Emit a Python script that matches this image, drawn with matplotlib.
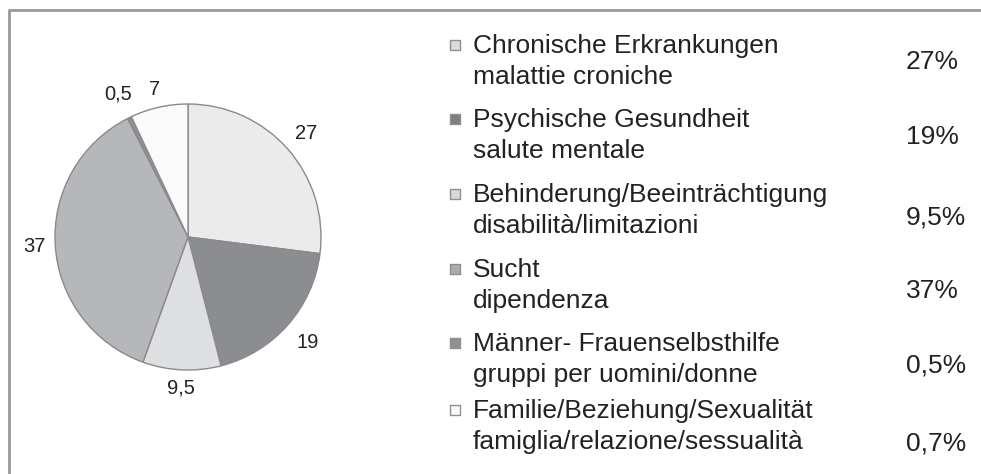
import numpy as np
import matplotlib
matplotlib.use("Agg")
import matplotlib.pyplot as plt

# data
pie_values = [27, 19, 9.5, 37, 0.5, 7]
pie_labels = ["27", "19", "9,5", "37", "0,5", "7"]
legend_de = ["Chronische Erkrankungen", "Psychische Gesundheit",
             "Behinderung/Beeinträchtigung", "Sucht",
             "Männer- Frauenselbsthilfe", "Familie/Beziehung/Sexualität"]
legend_it = ["malattie croniche", "salute mentale", "disabilità/limitazioni",
             "dipendenza", "gruppi per uomini/donne",
             "famiglia/relazione/sessualità"]
legend_pct = ["27%", "19%", "9,5%", "37%", "0,5%", "0,7%"]

slice_colors = ["#ebebeb", "#8b8d91", "#dedfe1", "#b5b7bb", "#8e9094", "#fbfbfb"]
square_colors = ["#dcdcdc", "#7c7e82", "#d8d8da", "#a9abaf", "#8e9094", "#fafafa"]

W, H = 981, 474
fig = plt.figure(figsize=(W / 100, H / 100), dpi=100)
ax = fig.add_axes([0, 0, 1, 1])

# pie, image coords converted to y-up pixel coords
cx, cy, r = 188, H - 237, 133
wedges, _ = ax.pie(pie_values, startangle=90, counterclock=False,
                   colors=slice_colors, center=(cx, cy), radius=r,
                   wedgeprops=dict(edgecolor="#8a8a8a", linewidth=1.0))
ax.set_xlim(0, W)
ax.set_ylim(0, H)
ax.set_aspect("auto")
ax.axis("off")

label_dist = [1.18, 1.2, 1.14, 1.16, 1.2, 1.14]
for w, lab, d in zip(wedges, pie_labels, label_dist):
    ang = np.deg2rad((w.theta1 + w.theta2) / 2)
    ax.text(cx + d * r * np.cos(ang), cy + d * r * np.sin(ang), lab,
            ha="center", va="center", fontsize=14.5, color="#222222",
            family=["Liberation Sans Narrow", "Liberation Sans"])

# legend block
first_base = [53, 127, 202, 277, 351, 418]
pct_base = [69, 144, 224, 298, 373, 451]
for i in range(len(legend_de)):
    yb = H - first_base[i]
    ax.scatter([455], [yb + 8], marker="s", s=55, color=square_colors[i],
               edgecolors="#8f8f8f", linewidths=1.0, zorder=3)
    ax.text(473, yb, legend_de[i], ha="left", va="baseline",
            fontsize=19, color="#222222", family="Liberation Sans")
    ax.text(473, yb - 31, legend_it[i], ha="left", va="baseline",
            fontsize=19, color="#222222", family="Liberation Sans")
    ax.text(906, H - pct_base[i], legend_pct[i], ha="left", va="baseline",
            fontsize=19, color="#222222", family="Liberation Sans")

# grey frame, top and left
ax.plot([8, W], [H - 10, H - 10], color="#999999", linewidth=2, solid_capstyle="butt")
ax.plot([9, 9], [H - 10, 0], color="#999999", linewidth=2, solid_capstyle="butt")

fig.savefig("out.png", dpi=100)
